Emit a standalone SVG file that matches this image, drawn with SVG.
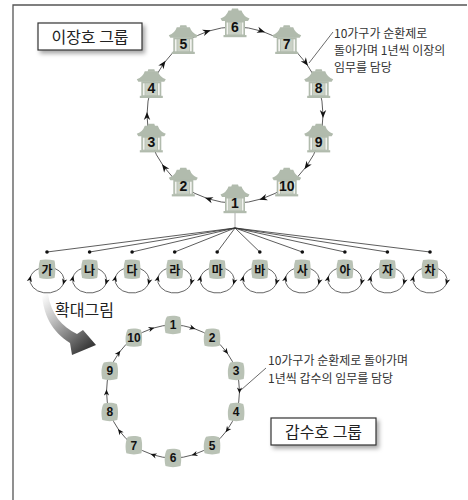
<svg xmlns="http://www.w3.org/2000/svg" width="468" height="500" viewBox="0 0 468 500">
<defs>
<style>
.frame{stroke:#555;stroke-width:1.3;fill:none}
.arc{fill:none;stroke:#4a4a4a;stroke-width:0.9}
.arcL{marker-mid:url(#ah);marker-end:url(#ah)}
.arcS{marker-mid:url(#ahs);marker-end:url(#ahs)}
.fan{stroke:#333;stroke-width:0.8;fill:none}
.loop{fill:none;stroke:#555;stroke-width:0.9;marker-mid:url(#ahs)}
.lead{stroke:#444;stroke-width:0.8;fill:none}
.hf{fill:#b1bbad}
.blob{fill:#b9c2b5}
.num{font-family:"Liberation Sans",Arial,sans-serif;font-weight:bold;font-size:14px;text-anchor:middle;fill:#111}
.numS{font-size:12px}
.kr{font-family:"Noto Sans CJK KR","Noto Sans",sans-serif}
.note{font-size:12px;fill:#333}
.title{font-size:16px;fill:#222;text-anchor:middle}
.tt{font-weight:bold;font-size:12px;text-anchor:middle;fill:#111}
.box{fill:#fff;stroke:#333;stroke-width:1.2}
</style>
<marker id="ah" viewBox="-9 -4 10 8" markerWidth="10" markerHeight="8" refX="-3" refY="0" orient="auto" markerUnits="userSpaceOnUse" overflow="visible">
<path d="M0,0 L-8,-3.2 L-5.6,0 L-8,3.2 Z" fill="#111"/>
</marker>
<marker id="ahs" viewBox="-7 -3 8 6" markerWidth="8" markerHeight="6" refX="-2" refY="0" orient="auto" markerUnits="userSpaceOnUse" overflow="visible">
<path d="M0,0 L-6,-2.6 L-4.2,0 L-6,2.6 Z" fill="#111"/>
</marker>
<linearGradient id="zg" gradientUnits="userSpaceOnUse" x1="44" y1="294" x2="90" y2="346">
<stop offset="0" stop-color="#ffffff"/>
<stop offset="0.35" stop-color="#c4c4c4"/>
<stop offset="1" stop-color="#3a3a3a"/>
</linearGradient>
<filter id="sh" x="-20%" y="-40%" width="150%" height="200%">
<feDropShadow dx="2.5" dy="3" stdDeviation="2" flood-color="#000" flood-opacity="0.35"/>
</filter>
<g id="house">
<path class="hf" d="M-3,-18.5 h6 l0.8,2.5 h-7.6 z"/>
<path class="hf" d="M-6.5,-16.5 H6.5 Q8.5,-10.5 14.5,-8.5 L13,-6 H-13 L-14.5,-8.5 Q-8.5,-10.5 -6.5,-16.5 Z"/>
<rect class="hf" x="-10" y="-6.5" width="20" height="15"/>
<rect class="hf" x="-11.5" y="8" width="23" height="2.2"/>
<rect fill="#c9d0c5" x="-6" y="-4.5" width="12" height="12"/>
<rect fill="#f2f3ef" x="-8.4" y="-4.5" width="1.7" height="12"/>
<rect fill="#f2f3ef" x="6.7" y="-4.5" width="1.7" height="12"/>
</g>
<path id="bl" class="blob" d="M-6,-8.5 C-2,-9.5 3,-9.5 7,-8 C8.5,-4 8.5,3 7.5,8 C3,9.5 -3,9.5 -7.5,8 C-8.8,3 -8.8,-4 -6,-8.5 Z"/>
<path id="tl" class="blob" d="M-7,-9.5 C-2,-10.5 3,-10 7.5,-9 C8.6,-4 8.6,4 7.5,8.5 C3,9.8 -3,9.8 -7.5,8.5 C-8.8,3 -8.8,-4 -7,-9.5 Z"/>
</defs>

<g id="frame">
<path class="frame" d="M13,500 V5 H467"/>
</g>

<g id="connectors">
<path class="arc arcL" d="M207.8,198.7 A88,88 0 0 1 163.8,166.7 A88,88 0 0 1 147,115 A88,88 0 0 1 163.8,63.3 A88,88 0 0 1 207.8,31.3 A88,88 0 0 1 262.2,31.3 A88,88 0 0 1 306.2,63.3 A88,88 0 0 1 323,115 A88,88 0 0 1 306.2,166.7 A88,88 0 0 1 262.2,198.7 A88,88 0 0 1 207.8,198.7"/>
<path class="arc arcS" d="M193.5,328.3 A66.5,66.5 0 0 1 226.8,352.4 A66.5,66.5 0 0 1 239.5,391.5 A66.5,66.5 0 0 1 226.8,430.6 A66.5,66.5 0 0 1 193.5,454.7 A66.5,66.5 0 0 1 152.5,454.7 A66.5,66.5 0 0 1 119.2,430.6 A66.5,66.5 0 0 1 106.5,391.5 A66.5,66.5 0 0 1 119.2,352.4 A66.5,66.5 0 0 1 152.5,328.3 A66.5,66.5 0 0 1 193.5,328.3"/>
<path class="lead" d="M333,32 L309,63"/>
<path class="lead" d="M266,368 L241,390"/>
<path d="M235,213 V228" stroke="#999" stroke-width="0.8"/>
<path class="fan" d="M235,228 L47,252 M235,228 L89.6,252 M235,228 L132.1,252 M235,228 L174.7,252 M235,228 L217.2,252 M235,228 L259.8,252 M235,228 L302.3,252 M235,228 L344.9,252 M235,228 L387.4,252 M235,228 L430,252"/>
<g fill="#111">
<circle cx="47" cy="252" r="1.8"/><circle cx="89.6" cy="252" r="1.8"/><circle cx="132.1" cy="252" r="1.8"/><circle cx="174.7" cy="252" r="1.8"/><circle cx="217.2" cy="252" r="1.8"/><circle cx="259.8" cy="252" r="1.8"/><circle cx="302.3" cy="252" r="1.8"/><circle cx="344.9" cy="252" r="1.8"/><circle cx="387.4" cy="252" r="1.8"/><circle cx="430" cy="252" r="1.8"/>
</g>
<path class="loop" d="M54.9,268.5 A17,13 0 0 1 63.63,282.7 A17,13 0 0 1 30.26,277.74 A17,13 0 0 1 39.1,268.5"/>
<path class="loop" d="M97.5,268.5 A17,13 0 0 1 106.23,282.7 A17,13 0 0 1 72.86,277.74 A17,13 0 0 1 81.7,268.5"/>
<path class="loop" d="M140,268.5 A17,13 0 0 1 148.73,282.7 A17,13 0 0 1 115.36,277.74 A17,13 0 0 1 124.2,268.5"/>
<path class="loop" d="M182.6,268.5 A17,13 0 0 1 191.33,282.7 A17,13 0 0 1 157.96,277.74 A17,13 0 0 1 166.8,268.5"/>
<path class="loop" d="M225.1,268.5 A17,13 0 0 1 233.83,282.7 A17,13 0 0 1 200.46,277.74 A17,13 0 0 1 209.3,268.5"/>
<path class="loop" d="M267.7,268.5 A17,13 0 0 1 276.43,282.7 A17,13 0 0 1 243.06,277.74 A17,13 0 0 1 251.9,268.5"/>
<path class="loop" d="M310.2,268.5 A17,13 0 0 1 318.93,282.7 A17,13 0 0 1 285.56,277.74 A17,13 0 0 1 294.4,268.5"/>
<path class="loop" d="M352.8,268.5 A17,13 0 0 1 361.53,282.7 A17,13 0 0 1 328.16,277.74 A17,13 0 0 1 337,268.5"/>
<path class="loop" d="M395.3,268.5 A17,13 0 0 1 404.03,282.7 A17,13 0 0 1 370.66,277.74 A17,13 0 0 1 379.5,268.5"/>
<path class="loop" d="M437.9,268.5 A17,13 0 0 1 446.63,282.7 A17,13 0 0 1 413.26,277.74 A17,13 0 0 1 422.1,268.5"/>
</g>

<g id="top-nodes">
<g id="t1"><use href="#house" x="235" y="203"/><text class="num" x="235" y="208">1</text></g>
<g id="t2"><use href="#house" x="183.3" y="186.2"/><text class="num" x="183.3" y="191.2">2</text></g>
<g id="t3"><use href="#house" x="151.3" y="142.2"/><text class="num" x="151.3" y="147.2">3</text></g>
<g id="t4"><use href="#house" x="151.3" y="87.8"/><text class="num" x="151.3" y="92.8">4</text></g>
<g id="t5"><use href="#house" x="183.3" y="43.8"/><text class="num" x="183.3" y="48.8">5</text></g>
<g id="t6"><use href="#house" x="235" y="27"/><text class="num" x="235" y="32">6</text></g>
<g id="t7"><use href="#house" x="286.7" y="43.8"/><text class="num" x="286.7" y="48.8">7</text></g>
<g id="t8"><use href="#house" x="318.7" y="87.8"/><text class="num" x="318.7" y="92.8">8</text></g>
<g id="t9"><use href="#house" x="318.7" y="142.2"/><text class="num" x="318.7" y="147.2">9</text></g>
<g id="t10"><use href="#house" x="286.7" y="186.2"/><text class="num" x="286.7" y="191.2">10</text></g>
</g>

<g id="tiles">
<g id="h-ga"><use href="#tl" x="47" y="269.5"/><text class="kr tt" x="47" y="274.6">가</text></g>
<g id="h-na"><use href="#tl" x="89.6" y="269.5"/><text class="kr tt" x="89.6" y="274.6">나</text></g>
<g id="h-da"><use href="#tl" x="132.1" y="269.5"/><text class="kr tt" x="132.1" y="274.6">다</text></g>
<g id="h-ra"><use href="#tl" x="174.7" y="269.5"/><text class="kr tt" x="174.7" y="274.6">라</text></g>
<g id="h-ma"><use href="#tl" x="217.2" y="269.5"/><text class="kr tt" x="217.2" y="274.6">마</text></g>
<g id="h-ba"><use href="#tl" x="259.8" y="269.5"/><text class="kr tt" x="259.8" y="274.6">바</text></g>
<g id="h-sa"><use href="#tl" x="302.3" y="269.5"/><text class="kr tt" x="302.3" y="274.6">사</text></g>
<g id="h-a"><use href="#tl" x="344.9" y="269.5"/><text class="kr tt" x="344.9" y="274.6">아</text></g>
<g id="h-ja"><use href="#tl" x="387.4" y="269.5"/><text class="kr tt" x="387.4" y="274.6">자</text></g>
<g id="h-cha"><use href="#tl" x="430" y="269.5"/><text class="kr tt" x="430" y="274.6">차</text></g>
</g>

<g id="bottom-nodes">
<g id="b1"><use href="#bl" x="173" y="325"/><text class="num numS" x="173" y="329.3">1</text></g>
<g id="b2"><use href="#bl" x="212.1" y="337.7"/><text class="num numS" x="212.1" y="342">2</text></g>
<g id="b3"><use href="#bl" x="236.2" y="371"/><text class="num numS" x="236.2" y="375.3">3</text></g>
<g id="b4"><use href="#bl" x="236.2" y="412"/><text class="num numS" x="236.2" y="416.3">4</text></g>
<g id="b5"><use href="#bl" x="212.1" y="445.3"/><text class="num numS" x="212.1" y="449.6">5</text></g>
<g id="b6"><use href="#bl" x="173" y="458"/><text class="num numS" x="173" y="462.3">6</text></g>
<g id="b7"><use href="#bl" x="133.9" y="445.3"/><text class="num numS" x="133.9" y="449.6">7</text></g>
<g id="b8"><use href="#bl" x="109.8" y="412"/><text class="num numS" x="109.8" y="416.3">8</text></g>
<g id="b9"><use href="#bl" x="109.8" y="371"/><text class="num numS" x="109.8" y="375.3">9</text></g>
<g id="b10"><use href="#bl" x="133.9" y="337.7"/><text class="num numS" x="133.9" y="342">10</text></g>
</g>

<g id="label-top">
<rect class="box" x="38" y="23" width="104" height="27" filter="url(#sh)"/>
<text class="kr title" x="90" y="42.5">이장호 그룹</text>
</g>
<g id="note-top">
<text class="kr note" x="334" y="38">10가구가 순환제로</text>
<text class="kr note" x="334" y="55">돌아가며 1년씩 이장의</text>
<text class="kr note" x="334" y="72">임무를 담당</text>
</g>
<g id="zoom-arrow">
<path fill="url(#zg)" d="M42,294 C43,314 52,332 70,343 L72,355 L96,345 L83,330 L77,334 C62,327 51,314 48,294 Z"/>
<text class="kr" x="55" y="315.5" font-size="16" fill="#222">확대그림</text>
</g>
<g id="note-bottom">
<text class="kr note" x="268" y="365">10가구가 순환제로 돌아가며</text>
<text class="kr note" x="268" y="382.5">1년씩 갑수의 임무를 담당</text>
</g>
<g id="label-bottom">
<rect class="box" x="271" y="418" width="105" height="27" filter="url(#sh)"/>
<text class="kr title" x="323.5" y="437.5">갑수호 그룹</text>
</g>
</svg>
